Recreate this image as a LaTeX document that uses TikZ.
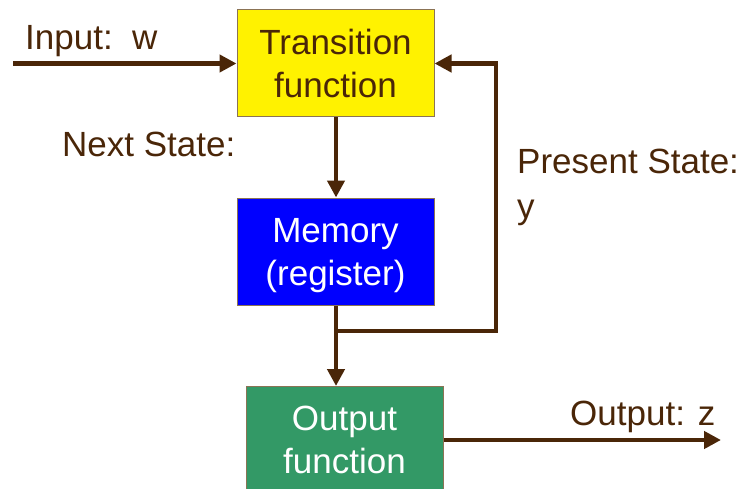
\documentclass[tikz,border=0pt]{standalone}
\usepackage{fontspec}
\setmainfont{Liberation Sans}
\usetikzlibrary{arrows.meta}
\definecolor{ln}{HTML}{4A2608}
\definecolor{bd}{HTML}{8B7355}
\definecolor{gr}{HTML}{339966}
\begin{document}
\begin{tikzpicture}[x=1pt,y=-1pt,
  box/.style={draw=bd, line width=1pt, minimum width=197pt, minimum height=107pt, align=center, inner sep=0pt,
    text depth=0pt, font=\fontsize{35}{43}\selectfont},
  wire/.style={draw=ln, line width=4.5pt},
  arr/.style={wire, -{Triangle[length=17pt,width=17pt]}},
  lbl/.style={anchor=base west, inner sep=0pt, text=ln, font=\fontsize{35}{43}\selectfont}]
\useasboundingbox (0,0) rectangle (743,489);
\clip (0,0) rectangle (743,489);
\node[box, fill=yellow, text=ln] (tf) at (335.5,63.5) {Transition\\function};
\node[box, fill=blue, text=white] (mem) at (335.5,251.5) {Memory\\(register)};
\node[box, fill=gr, text=white, anchor=north, minimum height=130pt, text depth=23pt] (out) at (344.5,386) {Output\\function};
\coordinate (in) at (13,63.5);
\coordinate (j) at (336,331);
\coordinate (fb) at (496,331);
\coordinate (oz) at (721,440);
\draw[arr] (in) -- (tf.west);
\draw[arr] (tf.south -| j) -- (mem.north -| j);
\draw[wire] (mem.south -| j) -- (j);
\draw[arr] (j) -- (j |- out.north);
\draw[arr] (j) -- (fb) |- (tf.east);
\draw[arr] (out.east |- oz) -- (oz);
\node[lbl] (lin) at (25,50) {Input:\ \ w};
\node[lbl] (lns) at (62,157) {Next State:};
\node[lbl] (lps) at (517,173) {Present State:};
\node[lbl] (ly) at (517,218) {y};
\node[lbl] (lout) at (570,425) {Output: z};
\end{tikzpicture}
\end{document}
